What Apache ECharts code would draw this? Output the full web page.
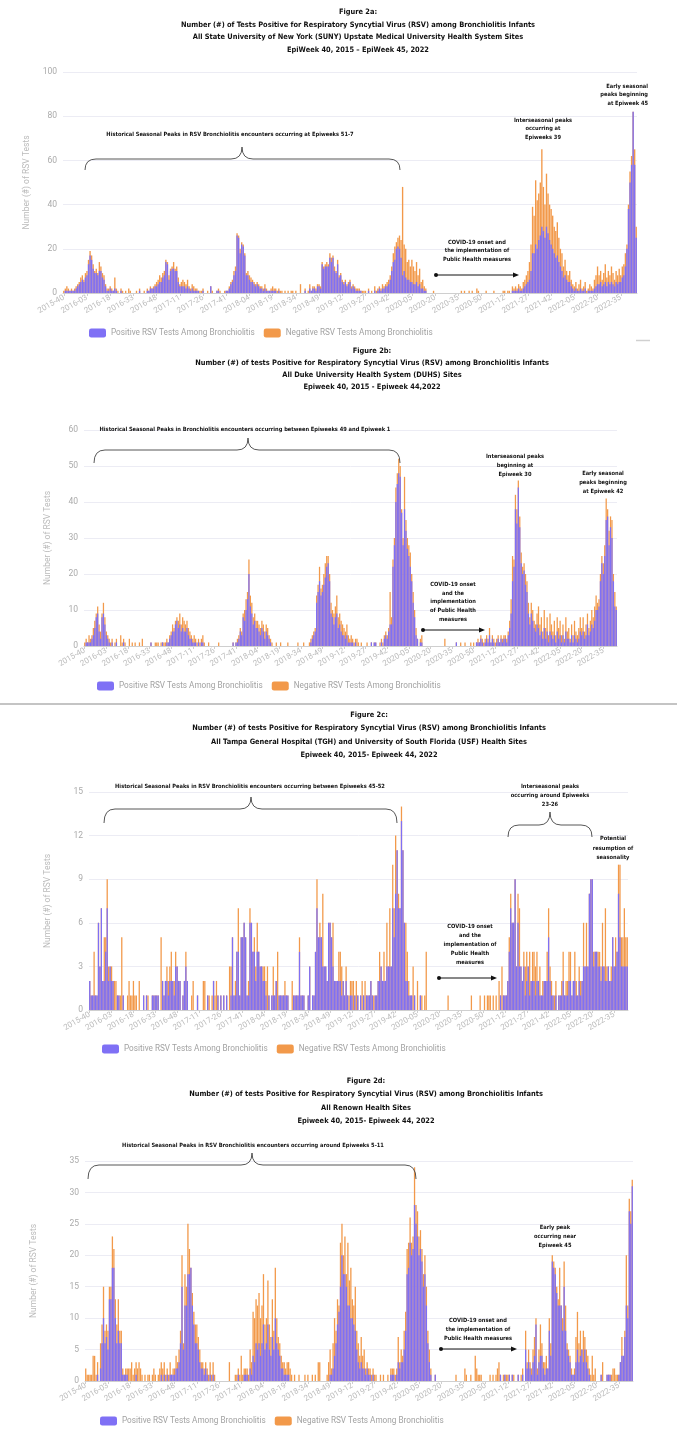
<!DOCTYPE html>
<html><head><meta charset="utf-8">
<script src="https://cdn.jsdelivr.net/npm/echarts@6/dist/echarts.min.js"></script>
<style>html,body{margin:0;padding:0;background:#fff}#c{width:677px;height:1439px}</style>
</head><body><div id="c"></div>
<script>
// ---------- DATA (weekly counts, index 0 = EpiWeek 2015-40) ----------
// "AllTests" = Positive + Negative (top of the orange bar); "Positive" = purple bar
const sunyAllTests = [
1,2,3,2,1,2,1,2,3,4,5,7,8,6,9,
10,15,19,17,13,10,11,9,14,12,9,8,4,2,2,
3,2,1,7,2,1,0,2,1,0,1,0,2,1,0,
0,0,1,0,2,0,0,1,0,2,1,3,2,3,4,
5,6,8,7,9,10,15,14,8,11,12,14,11,12,7,
4,5,6,5,4,6,3,2,4,3,2,2,1,1,1,
2,0,0,1,0,3,1,0,0,1,2,1,0,0,1,
1,1,3,5,6,10,12,27,26,20,23,22,18,9,10,
8,7,6,5,4,5,4,3,3,2,4,2,1,1,2,
3,2,2,1,2,1,1,0,1,0,1,0,1,1,0,
1,0,0,4,0,0,2,0,1,4,1,3,3,2,4,
4,3,14,12,13,14,13,18,16,17,12,10,15,8,9,
6,5,6,4,5,6,3,4,3,2,2,2,1,1,1,
1,0,2,0,1,0,3,1,2,3,2,4,3,4,5,
6,8,12,18,21,23,25,26,24,48,22,20,14,15,12,
15,12,10,14,8,11,5,6,3,2,0,0,0,0,1,
0,0,0,0,0,0,0,0,0,0,0,0,0,0,0,
0,0,1,0,1,0,0,1,0,1,0,0,2,1,0,
0,0,0,1,0,0,0,0,1,0,0,0,0,0,1,
1,0,1,1,0,3,2,3,2,4,3,2,5,6,8,
10,14,22,39,35,51,42,45,50,65,48,40,54,45,40,
38,35,30,28,32,25,20,18,12,15,10,8,10,6,4,
3,5,2,4,6,2,3,5,1,2,4,3,2,6,8,
12,8,10,6,9,13,7,10,8,12,9,6,10,8,11,
8,12,13,18,22,40,55,62,82,65,30];
const sunyPositive = [
0,1,1,1,1,1,1,1,2,3,4,5,6,5,7,
8,13,17,15,11,9,9,8,10,10,7,6,3,1,1,
2,1,1,2,1,0,0,1,0,0,0,0,0,0,0,
0,0,0,0,1,0,0,0,0,1,1,2,2,2,3,
3,4,5,5,7,8,14,13,6,10,11,11,10,10,5,
3,3,3,3,2,3,2,1,2,1,1,1,1,0,0,
1,0,0,0,0,3,0,0,0,1,1,0,0,0,0,
1,1,2,4,5,8,10,26,25,18,22,21,17,8,8,
6,5,5,4,3,4,3,2,2,1,2,1,1,1,1,
1,1,1,0,1,0,0,0,0,0,0,0,0,0,0,
0,0,0,0,0,0,1,0,0,2,1,2,2,1,3,
3,2,13,11,12,12,12,16,14,16,10,9,13,7,8,
5,4,5,3,4,5,2,3,2,1,1,1,1,0,0,
0,0,1,0,0,0,1,0,1,2,1,2,2,3,3,
4,6,10,14,15,20,21,20,16,8,10,7,6,6,5,
5,4,4,5,3,4,2,2,1,1,0,0,0,0,0,
0,0,0,0,0,0,0,0,0,0,0,0,0,0,0,
0,0,0,0,0,0,0,0,0,0,0,0,0,0,0,
0,0,0,0,0,0,0,0,0,0,0,0,0,0,0,
0,0,0,0,0,1,1,1,1,2,1,1,2,3,4,
5,6,10,18,18,22,20,24,26,30,28,25,30,27,24,
22,20,18,16,17,14,12,10,7,8,6,5,5,3,2,
1,2,1,1,2,1,1,2,0,1,1,1,1,2,3,
4,4,5,3,4,5,3,5,4,5,4,3,5,4,5,
5,7,8,12,20,38,50,58,82,58,25];

const dukeAllTests = [
1,2,1,3,2,3,5,7,9,11,6,4,9,12,8,
4,3,2,1,2,0,1,2,0,0,3,1,2,1,0,
0,2,0,1,0,1,0,0,1,0,2,0,0,0,0,
0,1,0,0,1,1,1,0,1,1,1,1,2,1,3,
4,6,5,7,8,7,9,6,8,7,6,7,5,4,3,
2,3,2,1,2,1,2,3,1,0,0,1,0,0,0,
0,0,0,1,0,0,0,0,0,0,0,0,0,1,0,
1,2,3,5,4,9,10,13,15,24,14,12,8,9,7,
7,6,5,7,6,4,6,5,3,2,1,0,0,1,0,
0,1,0,0,0,0,1,0,0,0,0,0,0,1,0,
0,0,1,0,0,0,1,2,3,4,5,14,17,22,16,
17,20,23,25,25,20,12,10,9,11,14,8,9,7,6,
5,4,6,3,2,3,2,1,2,2,1,0,1,0,0,
0,1,0,0,1,0,1,1,0,0,1,2,1,3,4,
3,5,15,8,24,30,44,48,52,50,38,30,47,35,30,
28,26,20,15,10,5,2,0,2,3,0,0,0,0,0,
0,0,0,0,0,0,0,0,0,0,2,0,0,0,0,
0,0,0,1,0,0,1,0,0,1,0,0,0,1,0,
1,0,1,2,1,3,2,1,2,3,2,5,1,3,2,
1,2,3,1,3,2,3,3,2,4,7,13,25,24,42,
38,46,36,26,22,23,20,18,12,8,12,10,7,6,9,
11,6,8,4,10,5,8,3,9,6,4,7,3,8,5,
7,3,6,2,8,4,5,2,6,3,7,4,3,5,8,
5,8,4,6,9,5,7,10,8,11,14,12,13,20,25,
23,28,41,38,32,36,35,20,15,11];
const dukePositive = [
0,1,1,1,1,2,3,5,8,9,4,2,8,9,6,
3,2,1,0,1,0,0,1,0,0,0,0,1,0,0,
0,0,0,0,0,0,0,0,0,0,0,0,0,0,0,
0,1,0,0,0,0,0,0,0,1,0,0,1,1,2,
3,4,4,6,7,5,6,4,5,4,4,5,3,2,2,
1,1,1,0,1,0,1,1,0,0,0,0,0,0,0,
0,0,0,0,0,0,0,0,0,0,0,0,0,1,0,
1,1,2,4,3,8,7,10,13,20,11,9,6,7,5,
5,4,3,5,4,2,4,3,2,1,0,0,0,0,0,
0,0,0,0,0,0,0,0,0,0,0,0,0,0,0,
0,0,0,0,0,0,0,1,2,3,4,12,15,18,14,
15,17,19,22,23,18,9,8,6,8,9,5,6,4,3,
3,2,3,1,1,1,1,0,1,0,0,0,0,0,0,
0,0,0,0,1,0,1,1,0,0,0,1,0,2,3,
2,4,6,6,22,28,40,45,48,47,37,28,38,32,27,
25,22,18,12,8,3,2,0,1,1,0,0,0,0,0,
0,0,0,0,0,0,0,0,0,0,0,0,0,0,0,
0,0,0,1,0,0,0,0,0,0,0,0,0,0,0,
0,0,1,1,1,2,1,0,1,2,1,3,1,2,1,
0,1,2,1,2,1,2,2,1,3,5,9,18,22,38,
34,44,33,23,20,21,17,15,9,6,9,7,5,4,6,
5,3,4,2,5,2,4,1,4,3,2,3,1,4,2,
3,1,3,1,4,2,2,1,3,1,3,2,1,2,4,
3,4,2,3,6,3,4,6,5,7,10,10,11,18,23,
20,25,35,36,28,33,30,18,11,10];

const tghAllTests = [
2,1,1,4,1,1,6,3,7,2,5,5,9,3,3,
3,2,2,2,1,1,1,5,1,0,0,1,2,1,1,
2,1,1,0,2,0,0,1,0,1,1,0,0,1,1,
1,1,1,0,5,2,1,2,3,2,3,4,2,2,4,
3,2,2,0,1,2,4,2,0,0,1,2,0,0,1,
0,0,0,2,2,0,1,1,0,1,2,1,2,1,0,
1,0,1,0,1,0,3,3,5,1,2,4,7,1,5,
5,6,5,1,2,7,6,4,5,3,6,4,3,3,3,
3,2,3,1,0,1,3,1,2,4,1,1,1,1,2,
1,1,0,0,2,1,1,1,1,5,1,1,1,0,0,
1,3,0,1,1,4,9,5,6,5,8,3,3,2,6,
6,5,6,2,2,2,4,4,3,2,1,3,1,1,2,
2,2,1,2,1,0,1,2,1,2,1,1,1,2,1,
1,1,1,2,4,3,2,4,2,6,3,7,3,10,7,
12,11,8,7,14,11,6,6,4,2,1,1,3,1,0,
2,0,1,1,0,1,4,0,0,0,0,0,0,0,0,
0,0,0,0,0,0,1,0,0,0,0,0,0,0,0,
0,0,0,0,0,0,0,1,0,0,0,0,0,1,0,
0,1,0,1,1,1,0,1,0,1,0,2,1,3,1,
1,1,2,5,8,6,6,9,3,8,7,3,2,4,3,
4,3,4,2,4,4,3,4,2,3,1,2,2,2,4,
7,3,2,1,1,2,0,1,1,2,4,1,2,2,4,
4,1,2,4,2,1,3,2,2,6,3,6,3,8,9,
9,4,4,4,4,4,3,6,3,7,3,3,2,3,5,
3,5,4,10,10,5,5,7,5,5];
const tghPositive = [
2,1,1,1,1,1,6,3,7,2,2,4,7,2,3,
2,2,0,0,1,1,0,0,1,0,0,0,0,0,0,
0,0,0,0,0,0,0,1,0,1,0,0,0,1,1,
1,1,1,0,0,2,1,2,2,1,2,2,2,1,3,
3,2,2,0,1,2,3,2,0,0,0,0,0,0,1,
0,0,0,0,0,0,1,0,0,0,2,0,0,1,0,
1,0,1,0,1,0,0,1,5,1,1,4,4,1,5,
5,6,5,1,1,6,6,4,4,2,4,4,3,3,2,
2,1,0,1,0,1,1,1,2,0,1,1,1,1,1,
1,1,0,0,0,1,1,1,1,4,1,1,1,0,0,
1,3,0,1,1,4,7,5,5,5,3,3,3,2,6,
6,5,3,2,2,2,2,2,1,2,1,2,1,0,1,
1,0,1,0,1,0,1,0,1,0,1,1,1,2,1,
0,1,1,2,2,3,2,2,2,3,3,3,3,7,5,
8,11,7,7,13,11,6,2,2,1,1,1,0,1,0,
0,0,1,0,0,0,0,0,0,0,0,0,0,0,0,
0,0,0,0,0,0,0,0,0,0,0,0,0,0,0,
0,0,0,0,0,0,0,0,0,0,0,0,0,0,0,
0,0,0,0,0,0,0,0,0,0,0,0,1,0,1,
1,1,2,4,7,6,6,9,3,6,3,3,2,3,1,
2,3,1,2,2,2,1,2,2,1,1,1,2,2,2,
5,2,1,1,0,1,0,1,1,1,2,1,1,1,2,
2,1,2,2,1,1,2,1,2,3,3,3,3,8,9,
9,3,4,4,3,3,2,3,3,2,2,3,2,2,5,
3,3,4,8,5,3,3,3,3,3];

const renownAllTests = [
2,1,1,1,1,4,4,1,3,0,6,9,15,8,9,
8,15,15,23,21,13,9,13,8,8,2,1,2,2,2,
2,3,1,2,3,2,3,2,1,0,1,0,1,1,0,
1,2,1,0,1,2,3,2,3,1,2,1,3,1,2,
2,4,3,5,8,20,6,17,15,25,21,18,14,11,9,
9,7,5,3,3,2,3,2,1,3,1,3,1,0,0,
0,0,0,0,0,0,0,3,0,0,0,1,1,2,1,
4,1,2,2,2,1,5,3,11,10,13,12,14,10,12,
17,9,10,16,9,7,13,8,18,10,7,6,4,3,3,
2,3,3,2,1,0,1,0,0,1,0,0,0,1,0,
1,0,0,1,0,1,0,3,3,0,0,0,0,1,3,
5,2,6,10,8,13,12,22,25,20,23,17,22,16,18,
13,12,15,8,6,4,7,4,5,2,3,2,2,1,2,
1,1,0,0,1,0,1,0,0,1,0,2,2,2,1,
2,7,3,5,4,8,11,21,22,26,22,23,34,28,27,
23,24,21,17,20,15,8,5,2,0,0,1,0,0,0,
0,0,0,0,0,0,0,0,0,0,1,0,0,0,0,
0,2,1,0,0,1,0,0,4,2,1,1,1,0,0,
0,0,0,1,0,1,0,1,2,3,1,0,1,1,1,
1,1,0,1,1,0,0,1,0,1,2,0,8,3,5,
3,2,5,7,10,2,5,9,6,3,3,4,2,10,6,
20,19,18,15,13,18,12,10,19,12,6,5,4,2,1,
2,7,11,6,8,5,8,7,5,4,2,1,4,1,2,
0,0,0,1,3,0,0,1,1,1,1,2,2,1,1,
1,3,7,4,8,20,12,29,27,32];
const renownPositive = [
0,0,0,0,0,0,0,0,1,0,2,6,10,6,7,
5,13,13,18,18,10,6,8,6,6,1,1,1,1,0,
0,0,0,0,1,0,0,0,0,0,0,0,0,0,0,
0,0,0,0,0,0,1,0,1,0,1,0,1,1,1,
1,2,2,3,6,15,5,12,12,17,17,18,12,9,6,
6,5,3,2,2,1,2,1,0,1,0,1,0,0,0,
0,0,0,0,0,0,0,0,0,0,0,0,0,1,0,
0,0,1,1,1,0,2,1,4,3,6,5,6,4,6,
9,5,6,9,5,4,7,5,10,6,5,4,2,2,1,
1,1,1,0,0,0,0,0,0,0,0,0,0,0,0,
0,0,0,0,0,0,0,0,0,0,0,0,0,0,0,
1,1,2,4,6,9,11,15,20,17,17,15,12,12,10,
10,9,8,5,3,2,3,2,2,1,2,1,1,0,1,
0,0,0,0,0,0,0,0,0,0,0,1,1,1,0,
1,3,2,3,3,5,8,17,18,22,20,21,28,25,23,
20,21,19,15,17,12,6,3,1,0,0,1,0,0,0,
0,0,0,0,0,0,0,0,0,0,0,0,0,0,0,
0,0,0,0,0,0,0,0,0,0,0,0,0,0,0,
0,0,0,0,0,0,0,0,0,0,1,0,0,1,0,
0,1,0,1,0,0,0,1,0,0,1,0,5,2,3,
2,1,3,4,9,1,3,4,4,2,1,2,2,8,4,
19,18,17,14,12,12,12,8,15,8,5,4,3,1,1,
1,3,5,3,4,5,3,5,3,2,1,0,0,0,0,
0,0,0,1,0,0,0,1,1,1,0,0,0,0,0,
1,3,4,4,7,12,10,27,25,31];

const POS_NAME = 'Positive RSV Tests Among Bronchiolitis';
const NEG_NAME = 'Negative RSV Tests Among Bronchiolitis';
const yName = 'Number (#) of RSV Tests';

// EpiWeek category labels
const weeksInYear = {2015:52,2016:52,2017:52,2018:52,2019:52,2020:53,2021:52,2022:52};
function epiWeeks(y, w, n) {
  const out = [];
  for (let k = 0; k < n; k++) {
    out.push(y + '-' + String(w).padStart(2, '0'));
    w++;
    if (w > weeksInYear[y]) { y++; w = 1; }
  }
  return out;
}

// ---------- LAYOUT ----------
const PURPLE = '#7f70f5';
const ORANGE = '#f2994a';
const TITLE_FONT = "'Liberation Sans Narrow','Arial Narrow','DejaVu Sans Condensed',sans-serif";
const AXIS_FONT = "Roboto, 'Noto Sans', sans-serif";

const panels = [
  { all: sunyAllTests, pos: sunyPositive, max: 100, interval: 20,
    grid: {left: 63, top: 72, width: 574, height: 221}, nameGap: 28, legendTop: 328.5, legendLeft: 89 },
  { all: dukeAllTests, pos: dukePositive, max: 60, interval: 10,
    grid: {left: 84, top: 430, width: 533, height: 216}, nameGap: 32, legendTop: 681.5, legendLeft: 97 },
  { all: tghAllTests, pos: tghPositive, max: 15, interval: 3,
    grid: {left: 89, top: 792, width: 539, height: 218}, nameGap: 37, legendTop: 1044.5, legendLeft: 102 },
  { all: renownAllTests, pos: renownPositive, max: 35, interval: 5,
    grid: {left: 85, top: 1161, width: 548, height: 220}, nameGap: 47, legendTop: 1416.5, legendLeft: 100 }
];

const grids = [], xAxes = [], yAxes = [], series = [], legends = [];
panels.forEach((p, i) => {
  grids.push(p.grid);
  xAxes.push({
    type: 'category', gridIndex: i, data: epiWeeks(2015, 40, p.all.length),
    axisLine: {lineStyle: {color: '#cfcfcf'}},
    axisTick: {show: true, interval: 14, alignWithLabel: true, length: 3, lineStyle: {color: '#cfcfcf'}},
    axisLabel: {interval: 14, rotate: 30, fontSize: 8, color: '#bcbcbc', fontFamily: AXIS_FONT, margin: 4}
  });
  yAxes.push({
    type: 'value', gridIndex: i, min: 0, max: p.max, interval: p.interval,
    axisLabel: {color: '#aaaaaa', fontSize: 8.5, fontFamily: AXIS_FONT, margin: 6},
    splitLine: {lineStyle: {color: '#ececf4'}},
    axisLine: {show: false}, axisTick: {show: false},
    name: yName, nameLocation: 'middle', nameGap: p.nameGap, nameRotate: 90,
    nameTextStyle: {color: '#bbbbbb', fontSize: 8.5, fontFamily: AXIS_FONT}
  });
  series.push({
    name: NEG_NAME, type: 'bar', xAxisIndex: i, yAxisIndex: i, data: p.all,
    itemStyle: {color: ORANGE}, barGap: '-100%', barCategoryGap: '12%', silent: true
  });
  series.push({
    name: POS_NAME, type: 'bar', xAxisIndex: i, yAxisIndex: i, data: p.pos,
    itemStyle: {color: PURPLE}, barGap: '-100%', barCategoryGap: '12%', silent: true
  });
  legends.push({
    left: p.legendLeft, top: p.legendTop, padding: 0, data: [POS_NAME, NEG_NAME],
    icon: 'roundRect', itemWidth: 17, itemHeight: 9, itemGap: 9, selectedMode: false,
    textStyle: {color: '#a2a2a2', fontSize: 8.2, fontFamily: AXIS_FONT}
  });
});

// ---------- ANNOTATIONS ----------
const INK = '#111';
function txt(text, x, y, size, lh, align) {
  return {
    type: 'text', silent: true, z: 100,
    style: {
      text: text, x: x, y: y, fill: INK,
      fontSize: size, fontWeight: 'bold', fontFamily: TITLE_FONT,
      lineHeight: lh, align: align || 'center', textAlign: align || 'center',
      verticalAlign: 'top', textVerticalAlign: 'top'
    }
  };
}
function seg(x1, y1, x2, y2) {
  return {type: 'line', silent: true, z: 100, shape: {x1: x1, y1: y1, x2: x2, y2: y2},
          style: {stroke: '#444', lineWidth: 0.9}};
}
function curve(x1, y1, cx, cy, x2, y2) {
  return {type: 'bezierCurve', silent: true, z: 100,
          shape: {x1: x1, y1: y1, x2: x2, y2: y2, cpx1: cx, cpy1: cy},
          style: {stroke: '#444', fill: null, lineWidth: 0.9}};
}
function brace(x1, x2, xm, yEnd, yFlat, yTip) {
  const r = 11;
  return [
    curve(x1, yEnd, x1, yFlat, x1 + r, yFlat),
    seg(x1 + r, yFlat, xm - r, yFlat),
    curve(xm - r, yFlat, xm, yFlat, xm, yTip),
    curve(xm, yTip, xm, yFlat, xm + r, yFlat),
    seg(xm + r, yFlat, x2 - r, yFlat),
    curve(x2 - r, yFlat, x2, yFlat, x2, yEnd)
  ];
}
function arrow(x1, x2, y) {
  return [
    {type: 'circle', silent: true, z: 100, shape: {cx: x1, cy: y, r: 2}, style: {fill: INK}},
    {type: 'line', silent: true, z: 100, shape: {x1: x1, y1: y, x2: x2 - 5, y2: y}, style: {stroke: INK, lineWidth: 1}},
    {type: 'polygon', silent: true, z: 100, shape: {points: [[x2, y], [x2 - 6, y - 2.6], [x2 - 6, y + 2.6]]}, style: {fill: INK}}
  ];
}

const TS = 7.4;   // title font size
const AS = 5.7;   // annotation font size
const graphics = [
  // titles
  txt('Figure 2a:\nNumber (#) of Tests Positive for Respiratory Syncytial Virus (RSV) among Bronchiolitis Infants\nAll State University of New York (SUNY) Upstate Medical University Health System Sites\nEpiWeek 40, 2015 \u2013 EpiWeek 45, 2022', 358, 5.7, TS, 12.6),
  txt('Figure 2b:\nNumber (#) of tests Positive for Respiratory Syncytial Virus (RSV) among Bronchiolitis Infants\nAll Duke University Health System (DUHS) Sites\nEpiweek 40, 2015 - Epiweek 44,2022', 372, 345, TS, 12),
  txt('Figure 2c:\nNumber (#) of tests Positive for Respiratory Syncytial Virus (RSV) among Bronchiolitis Infants\nAll Tampa General Hospital (TGH) and University of South Florida (USF) Health Sites\nEpiweek 40, 2015- Epiweek 44, 2022', 369, 708.5, TS, 13.3),
  txt('Figure 2d:\nNumber (#) of tests Positive for Respiratory Syncytial Virus (RSV) among Bronchiolitis Infants\nAll Renown Health Sites\nEpiweek 40, 2015- Epiweek 44, 2022', 366, 1074.5, TS, 13.3),

  // panel a
  txt('Historical Seasonal Peaks in RSV Bronchiolitis encounters occurring at Epiweeks 51-7', 230, 131, AS, 8),
  ...brace(85, 400, 242, 170, 159, 147),
  txt('Interseasonal peaks\noccurring at\nEpiweeks 39', 543, 116, AS, 8.5),
  txt('Early seasonal\npeaks beginning\nat Epiweek 45', 648, 82, AS, 8.5, 'right'),
  txt('COVID-19 onset and\nthe implementation of\nPublic Health measures', 477, 238, AS, 8.5),
  ...arrow(436, 519, 275),

  // panel b
  txt('Historical Seasonal Peaks in Bronchiolitis encounters occurring between Epiweeks 49 and Epiweek 1', 245, 426, AS, 8),
  ...brace(94, 400, 248, 463, 450, 438),
  txt('Interseasonal peaks\nbeginning at\nEpiweek 30', 515, 452, AS, 9),
  txt('Early seasonal\npeaks beginning\nat Epiweek 42', 603, 469, AS, 9),
  txt('COVID-19 onset\nand the\nimplementation\nof Public Health\nmeasures', 453, 580, AS, 8.8),
  ...arrow(423, 485, 630),

  // panel c
  txt('Historical Seasonal Peaks in RSV Bronchiolitis encounters occurring between Epiweeks 45-52', 250, 783, AS, 8),
  ...brace(104, 397, 251, 823, 809, 797),
  txt('Interseasonal peaks\noccurring around Epiweeks\n23-26', 550, 782, AS, 9),
  ...brace(508, 592, 550, 837, 825, 812),
  txt('Potential\nresumption of\nseasonality', 613, 834, AS, 9.5),
  txt('COVID-19 onset\nand the\nimplementation of\nPublic Health\nmeasures', 470, 922, AS, 9),
  ...arrow(439, 497, 978),

  // panel d
  txt('Historical Seasonal Peaks in RSV Bronchiolitis encounters occurring around Epiweeks 5-11', 253, 1142, AS, 8),
  ...brace(88, 416, 252, 1179, 1165, 1153),
  txt('Early peak\noccurring near\nEpiweek 45', 555, 1223, AS, 9),
  txt('COVID-19 onset and\nthe implementation of\nPublic Health measures', 478, 1316, AS, 9),
  ...arrow(441, 517, 1349),

  // separators
  {type: 'line', silent: true, shape: {x1: 0, y1: 704, x2: 677, y2: 704}, style: {stroke: '#8a8a8a', lineWidth: 1.2}},
  {type: 'line', silent: true, shape: {x1: 636, y1: 340.5, x2: 650, y2: 340.5}, style: {stroke: '#d0d0d0', lineWidth: 1.5}}
];

const chart = echarts.init(document.getElementById('c'), null, {renderer: 'canvas'});
chart.setOption({
  animation: false,
  backgroundColor: '#ffffff',
  grid: grids,
  xAxis: xAxes,
  yAxis: yAxes,
  series: series,
  legend: legends,
  graphic: graphics
});
</script>
</body></html>
